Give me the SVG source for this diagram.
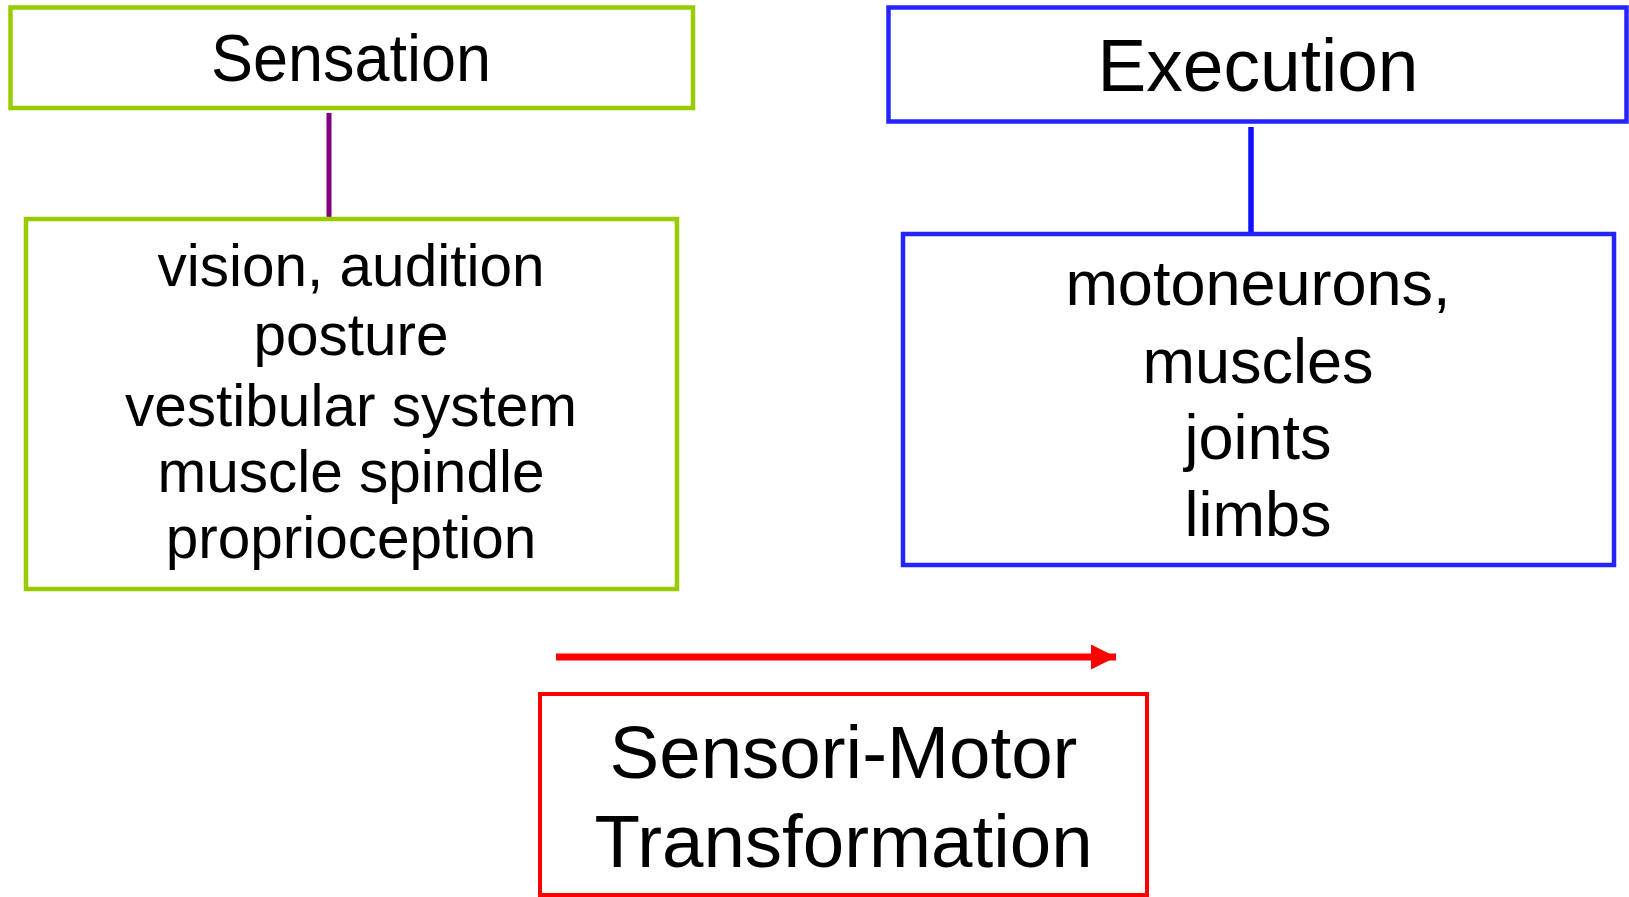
<svg xmlns="http://www.w3.org/2000/svg" width="1629" height="897" viewBox="0 0 1629 897">
<defs>
<style>
text{font-family:"Liberation Sans",Arial,sans-serif;fill:#000;text-anchor:middle}
.g{fill:#fff;stroke:#99cc00;stroke-width:4.5}
.b{fill:#fff;stroke:#2424ff;stroke-width:4.5}
.r{fill:#fff;stroke:#ff0000;stroke-width:4}
.s{font-size:58.5px}
.e{font-size:63px}
.t{font-size:74.5px}
</style>
<marker id="ah" markerUnits="userSpaceOnUse" markerWidth="26" markerHeight="26" refX="25" refY="12.5" orient="auto">
<path d="M0,0 L25,12.5 L0,25 Z" fill="#ff0000"/>
</marker>
</defs>
<rect width="1629" height="897" fill="#fff"/>
<g id="connectors">
<line x1="329" y1="113" x2="329" y2="217" stroke="#800080" stroke-width="5"/>
<line x1="1251" y1="127" x2="1251" y2="232" stroke="#1010ff" stroke-width="5.5"/>
<line x1="556" y1="657" x2="1116" y2="657" stroke="#ff0000" stroke-width="7" marker-end="url(#ah)"/>
</g>
<g id="sensation">
<rect class="g" x="10.5" y="7.5" width="682.5" height="100.5"/>
<text x="351" y="81" font-size="66" textLength="280" lengthAdjust="spacingAndGlyphs">Sensation</text>
</g>
<g id="sensation-list">
<rect class="g" x="26" y="219" width="651" height="370"/>
<text class="s" x="351" y="286">vision, audition</text>
<text class="s" x="351" y="355">posture</text>
<text class="s" x="351" y="426">vestibular system</text>
<text class="s" x="351" y="492">muscle spindle</text>
<text class="s" x="351" y="558">proprioception</text>
</g>
<g id="execution">
<rect class="b" x="888.5" y="7.5" width="738" height="114"/>
<text x="1258" y="91" font-size="74" textLength="321" lengthAdjust="spacingAndGlyphs">Execution</text>
</g>
<g id="execution-list">
<rect class="b" x="903" y="234" width="711" height="331"/>
<text class="e" x="1258" y="305">motoneurons,</text>
<text class="e" x="1258" y="383">muscles</text>
<text class="e" x="1258" y="459">joints</text>
<text class="e" x="1258" y="536">limbs</text>
</g>
<g id="transformation">
<rect class="r" x="540" y="694" width="607" height="201"/>
<text class="t" x="843.5" y="778">Sensori-Motor</text>
<text class="t" x="843.5" y="867">Transformation</text>
</g>
</svg>
